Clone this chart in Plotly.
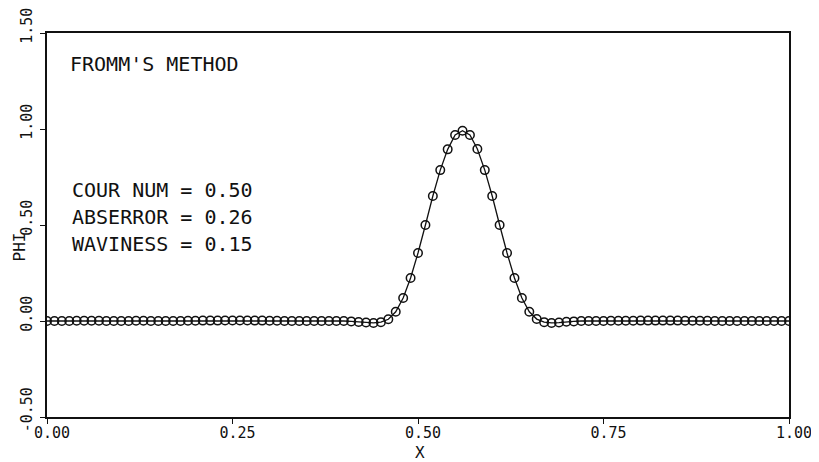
import plotly.graph_objects as go

# ---- data ----
x_grid = [0.00, 0.01, 0.02, 0.03, 0.04, 0.05, 0.06, 0.07, 0.08, 0.09,
          0.10, 0.11, 0.12, 0.13, 0.14, 0.15, 0.16, 0.17, 0.18, 0.19,
          0.20, 0.21, 0.22, 0.23, 0.24, 0.25, 0.26, 0.27, 0.28, 0.29,
          0.30, 0.31, 0.32, 0.33, 0.34, 0.35, 0.36, 0.37, 0.38, 0.39,
          0.40, 0.41, 0.42, 0.43, 0.44, 0.45, 0.46, 0.47, 0.48, 0.49,
          0.50, 0.51, 0.52, 0.53, 0.54, 0.55, 0.56, 0.57, 0.58, 0.59,
          0.60, 0.61, 0.62, 0.63, 0.64, 0.65, 0.66, 0.67, 0.68, 0.69,
          0.70, 0.71, 0.72, 0.73, 0.74, 0.75, 0.76, 0.77, 0.78, 0.79,
          0.80, 0.81, 0.82, 0.83, 0.84, 0.85, 0.86, 0.87, 0.88, 0.89,
          0.90, 0.91, 0.92, 0.93, 0.94, 0.95, 0.96, 0.97, 0.98, 0.99,
          1.00]

phi_numeric = [0.000, 0.000, 0.000, 0.000, 0.001, 0.001, 0.001, 0.001, 0.000, 0.000,
               0.000, 0.000, 0.001, 0.001, 0.000, 0.000, 0.000, 0.000, 0.000, 0.001,
               0.001, 0.002, 0.002, 0.002, 0.003, 0.003, 0.003, 0.003, 0.002, 0.002,
               0.001, 0.001, 0.000, 0.000, 0.000, 0.000, 0.000, 0.000, 0.000, 0.000,
               0.000, -0.002, -0.005, -0.008, -0.010, -0.006, 0.009, 0.048, 0.120, 0.224,
               0.354, 0.500, 0.651, 0.786, 0.894, 0.969, 0.991, 0.969, 0.896, 0.786,
               0.651, 0.500, 0.354, 0.224, 0.120, 0.048, 0.010, -0.006, -0.010, -0.008,
               -0.004, -0.002, 0.000, 0.000, 0.000, 0.000, 0.001, 0.001, 0.001, 0.001,
               0.002, 0.002, 0.002, 0.002, 0.002, 0.002, 0.001, 0.001, 0.001, 0.001,
               0.000, 0.000, 0.000, 0.000, 0.000, 0.000, 0.000, 0.000, 0.000, 0.000,
               0.000]

phi_exact = phi_numeric

x_ticks = [0.0, 0.25, 0.5, 0.75, 1.0]
x_tick_labels = ["0.00", "0.25", "0.50", "0.75", "1.00"]
y_ticks = [-0.5, 0.0, 0.5, 1.0, 1.5]
y_tick_labels = ["-0.50", "0.00", "0.50", "1.00", "1.50"]

title_text = "FROMM'S METHOD"
info_lines = ["COUR NUM = 0.50", "ABSERROR = 0.26", "WAVINESS = 0.15"]

# ---- figure ----
INK = "#111111"
FONT = "DejaVu Sans Mono"

fig = go.Figure()
fig.add_trace(go.Scatter(x=x_grid, y=phi_exact, mode="lines",
                         line=dict(color=INK, width=1.3), showlegend=False,
                         hoverinfo="skip"))
fig.add_trace(go.Scatter(x=x_grid, y=phi_numeric, mode="markers",
                         marker=dict(symbol="circle-open", size=8.5, color=INK,
                                     line=dict(width=1.5, color=INK)),
                         showlegend=False))

fig.update_xaxes(range=[0, 1], tickvals=x_ticks, ticktext=x_tick_labels,
                 showgrid=False, zeroline=False, showline=True, mirror=True,
                 linecolor=INK, linewidth=1.5, ticks="outside", ticklen=5,
                 tickcolor=INK, tickwidth=1.2,
                 tickfont=dict(family=FONT, size=15, color=INK),
                 ticklabelshift=5, ticklabelstandoff=-4,
                 ticklabeloverflow="allow", automargin=False)
fig.update_yaxes(range=[-0.5, 1.5], tickvals=y_ticks, ticktext=y_tick_labels,
                 showgrid=False, zeroline=False, showline=True, mirror=True,
                 linecolor=INK, linewidth=1.5, ticks="outside", ticklen=5,
                 tickcolor=INK, tickwidth=1.2, tickangle=-90,
                 tickfont=dict(family=FONT, size=15, color=INK),
                 ticklabelshift=-5, ticklabelstandoff=2,
                 ticklabeloverflow="allow", automargin=False)

fig.add_annotation(text=title_text, xref="paper", yref="paper",
                   x=0.028, y=0.919, xanchor="left", yanchor="middle",
                   showarrow=False, font=dict(family=FONT, size=20, color=INK))
info_y = [0.591, 0.521, 0.451]
for line, yy in zip(info_lines, info_y):
    fig.add_annotation(text=line, xref="paper", yref="paper",
                       x=0.031, y=yy, xanchor="left",
                       yanchor="middle", showarrow=False,
                       font=dict(family=FONT, size=20, color=INK))

# axis titles
fig.add_annotation(text="X", xref="paper", yref="paper", x=0.503, y=-0.093,
                   xanchor="center", yanchor="middle", showarrow=False,
                   font=dict(family=FONT, size=16, color=INK))
fig.add_annotation(text="PHI", xref="paper", yref="paper", x=-0.037, y=0.443,
                   xanchor="center", yanchor="middle", showarrow=False,
                   textangle=-90, font=dict(family=FONT, size=16, color=INK))

fig.update_layout(width=819, height=462,
                  margin=dict(l=39, r=38, t=25, b=53, autoexpand=False),
                  paper_bgcolor="white", plot_bgcolor="white")

fig.write_html("out.html")
